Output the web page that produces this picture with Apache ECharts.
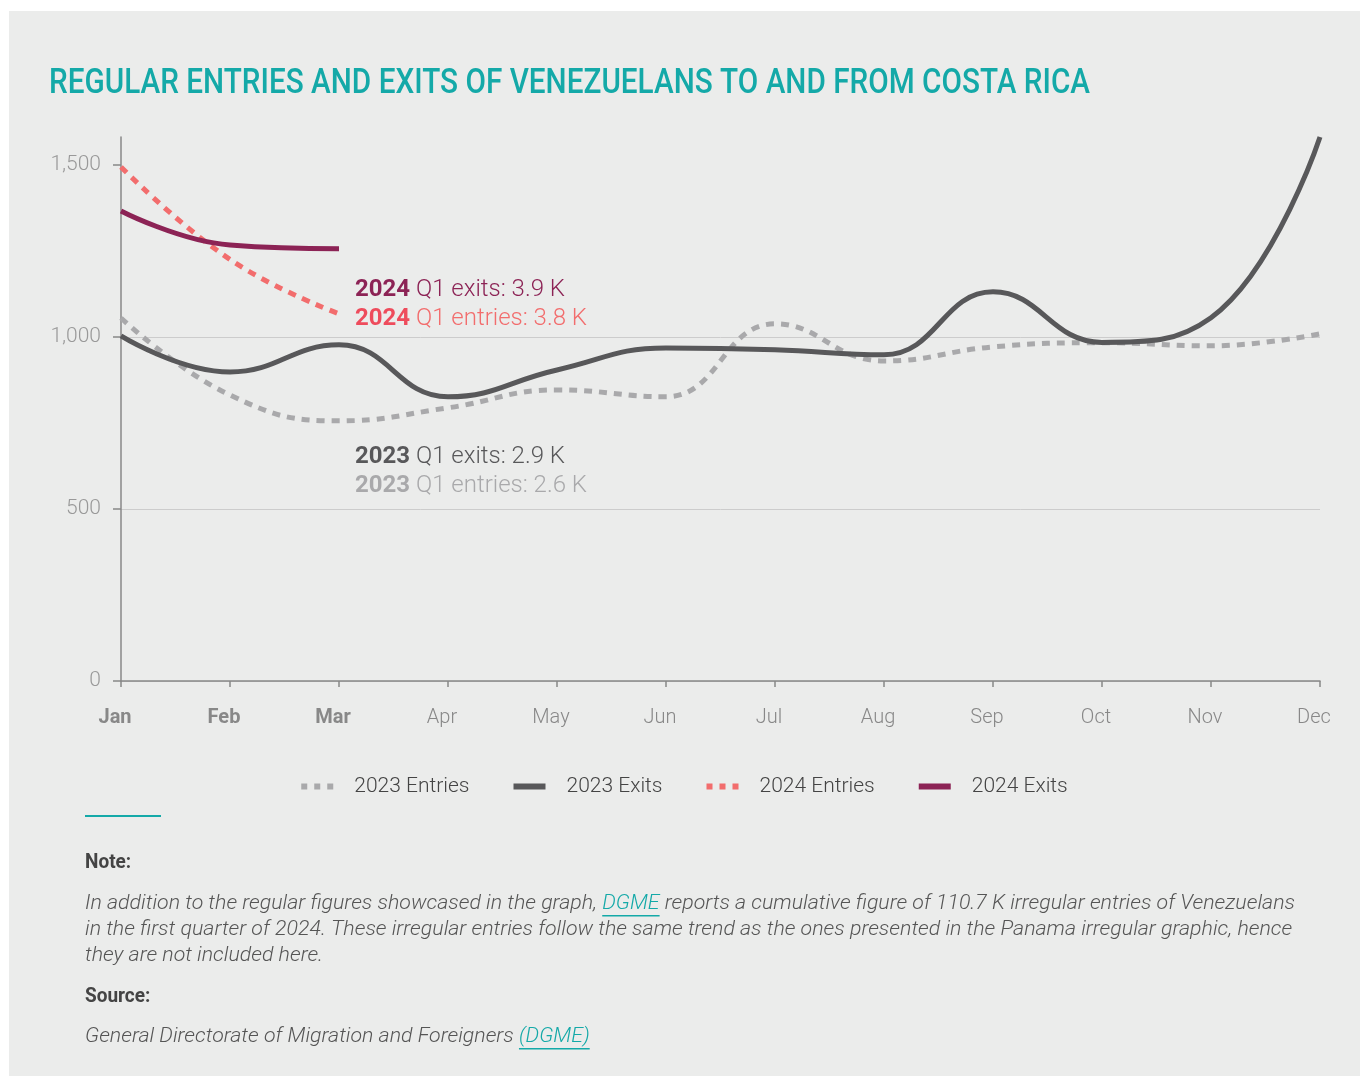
<!DOCTYPE html>
<html>
<head>
<meta charset="utf-8">
<script src="https://cdn.jsdelivr.net/npm/echarts@6/dist/echarts.min.js"></script>
<style>
  body { margin: 0; background: #fff; }
  #chart { position: absolute; left: 9px; top: 11px; width: 1351px; height: 1065px; background: #ebeceb; }
</style>
</head>
<body>
<div id="chart"></div>
<script>
// data
var months = ['Jan', 'Feb', 'Mar', 'Apr', 'May', 'Jun', 'Jul', 'Aug', 'Sep', 'Oct', 'Nov', 'Dec']
var entries2023 = [1055, 831, 756, 794, 846, 826, 1038, 930, 971, 983, 974, 1009]
var exits2023 = [1003, 898, 977, 826, 904, 968, 963, 948, 1131, 984, 1056, 1581]
var entries2024 = [1494, 1225, 1067]
var exits2024 = [1366, 1267, 1256]
var yTicks = [0, 500, 1000, 1500]

var OX = 9, OY = 11 // chart div offset on the page

var measure = document.createElement('canvas').getContext('2d')
function tw(text, font) {
  measure.font = font
  return measure.measureText(text).width
}

// lays out a row of text pieces, optionally squeezing them horizontally
function textRow(x, y, parts, s) {
  var out = []
  parts.forEach(function (p) {
    var w = tw(p.text, p.font) * s
    out.push({
      type: 'text', x: x - OX, y: y - OY, scaleX: s, silent: true,
      style: { text: p.text, font: p.font, fill: p.color, align: 'left', verticalAlign: 'middle' }
    })
    if (p.underline) {
      out.push({
        type: 'rect', silent: true,
        shape: { x: x - OX, y: y - OY + 11, width: w, height: 1.5 },
        style: { fill: p.color }
      })
    }
    x += w
  })
  return out
}

var titleFont = '500 35px Roboto'
var titleText = 'REGULAR ENTRIES AND EXITS OF VENEZUELANS TO AND FROM COSTA RICA'
var titleScale = 1041 / tw(titleText, titleFont)

var noteFont = 'italic 300 20px Roboto'
var teal = '#14a9a8'
var noteGrey = '#555'
var line1a = 'In addition to the regular figures showcased in the graph, '
var line1b = ' reports a cumulative figure of 110.7 K irregular entries of Venezuelans'
var noteScale = 1210 / tw(line1a + 'DGME' + line1b, noteFont)

var annFontB = 'bold 24px Roboto'
var annFont = '300 24px Roboto'

var graphics = [].concat(
  textRow(49, 84, [{ text: titleText, font: titleFont, color: teal }], titleScale),
  textRow(355, 290, [
    { text: '2024', font: annFontB, color: '#8c2355' },
    { text: ' Q1 exits: 3.9 K', font: annFont, color: '#8c2355' }
  ], 1),
  textRow(355, 319, [
    { text: '2024', font: annFontB, color: '#ee4c5c' },
    { text: ' Q1 entries: 3.8 K', font: annFont, color: '#f26d6d' }
  ], 1),
  textRow(355, 457, [
    { text: '2023', font: annFontB, color: '#58585a' },
    { text: ' Q1 exits: 2.9 K', font: annFont, color: '#58585a' }
  ], 1),
  textRow(355, 486, [
    { text: '2023', font: annFontB, color: '#a9a9ab' },
    { text: ' Q1 entries: 2.6 K', font: annFont, color: '#a9a9ab' }
  ], 1),
  [{
    type: 'rect', silent: true,
    shape: { x: 85 - OX, y: 815 - OY, width: 76, height: 2 },
    style: { fill: teal }
  }],
  textRow(85, 863, [{ text: 'Note:', font: 'bold 20px Roboto', color: '#444' }], 0.95),
  textRow(85, 904, [
    { text: line1a, font: noteFont, color: noteGrey },
    { text: 'DGME', font: noteFont, color: teal, underline: true },
    { text: line1b, font: noteFont, color: noteGrey }
  ], noteScale),
  textRow(85, 930, [{ text: 'in the first quarter of 2024. These irregular entries follow the same trend as the ones presented in the Panama irregular graphic, hence', font: noteFont, color: noteGrey }], noteScale),
  textRow(85, 956, [{ text: 'they are not included here.', font: noteFont, color: noteGrey }], noteScale),
  textRow(85, 997, [{ text: 'Source:', font: 'bold 20px Roboto', color: '#444' }], 0.95),
  textRow(85, 1037, [
    { text: 'General Directorate of Migration and Foreigners ', font: noteFont, color: noteGrey },
    { text: '(DGME)', font: noteFont, color: teal, underline: true }
  ], noteScale)
)

var dashIcon = 'path://M0,0h6v6h-6z M13,0h6v6h-6z M26,0h6v6h-6z'

var chart = echarts.init(document.getElementById('chart'))
chart.setOption({
  backgroundColor: '#ebeceb',
  animation: false,
  textStyle: { fontFamily: 'Roboto' },
  grid: { left: 112, right: 40, top: 126, bottom: 395, containLabel: false },
  legend: {
    top: 760,
    left: 'center',
    itemWidth: 32,
    itemHeight: 6,
    itemGap: 44,
    textStyle: { fontSize: 21, color: '#444', fontWeight: 300, padding: [0, 0, 0, 16] },
    data: [
      { name: '2023 Entries', icon: dashIcon },
      { name: '2023 Exits', icon: 'rect' },
      { name: '2024 Entries', icon: dashIcon },
      { name: '2024 Exits', icon: 'rect' }
    ]
  },
  xAxis: {
    type: 'category',
    boundaryGap: false,
    data: months,
    axisLine: { lineStyle: { color: '#888', width: 1.5 } },
    axisTick: { show: true, length: 6, lineStyle: { color: '#888', width: 1.5 } },
    axisLabel: {
      margin: 27,
      fontSize: 20,
      color: '#888',
      fontWeight: 300,
      padding: [0, 12, 0, 0],
      formatter: function (v, i) { return i < 3 ? '{b|' + v + '}' : v },
      rich: { b: { fontSize: 20, fontWeight: 'bold', color: '#888' } }
    },
    splitLine: { show: false }
  },
  yAxis: {
    type: 'value',
    min: 0,
    max: 1581,
    interval: 500,
    axisLine: { show: true, lineStyle: { color: '#888', width: 1.5 } },
    axisTick: { show: true, length: 8, customValues: yTicks, lineStyle: { color: '#888', width: 1.5 } },
    axisLabel: {
      customValues: yTicks,
      margin: 20,
      fontSize: 21,
      fontWeight: 300,
      color: '#999',
      padding: [5, 0, 0, 0],
      formatter: function (v) { return v.toLocaleString('en-US') }
    },
    splitLine: { show: true, showMaxLine: false, lineStyle: { color: '#ccc', width: 1 } }
  },
  series: [
    {
      name: '2023 Entries', type: 'line', data: entries2023, smooth: 0.45, symbol: 'none',
      color: '#a9a9ab', lineStyle: { width: 5, type: [8, 7], color: '#a9a9ab' }, z: 2
    },
    {
      name: '2023 Exits', type: 'line', data: exits2023, smooth: 0.45, symbol: 'none',
      color: '#58585a', lineStyle: { width: 5, color: '#58585a' }, z: 3
    },
    {
      name: '2024 Entries', type: 'line', data: entries2024, smooth: 0.45, symbol: 'none',
      color: '#f26d6d', lineStyle: { width: 5, type: [8, 7], color: '#f26d6d' }, z: 4
    },
    {
      name: '2024 Exits', type: 'line', data: exits2024, smooth: 0.45, symbol: 'none',
      color: '#8c2355', lineStyle: { width: 5, color: '#8c2355' }, z: 5
    }
  ],
  graphic: graphics
})
</script>
</body>
</html>
